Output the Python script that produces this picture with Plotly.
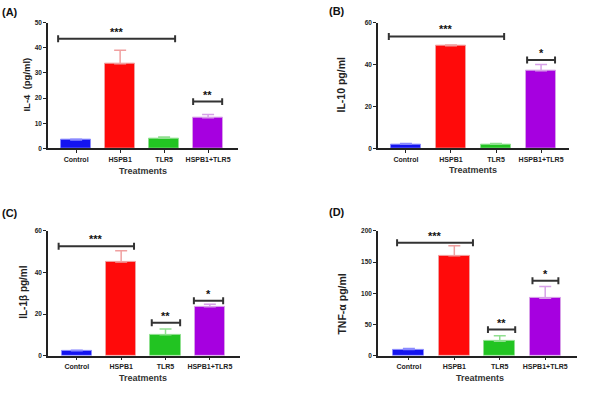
import plotly.graph_objects as go

W, H = 598, 393
categories = ["Control", "HSPB1", "TLR5", "HSPB1+TLR5"]
bar_colors = ["#1414f0", "#ff0a0a", "#22c422", "#a600e0"]
err_colors = ["#8a8aff", "#f0a0a0", "#90e090", "#d7a0e8"]

il4_mean = [3.3, 33.7, 4.0, 12.2]
il4_upper = [3.6, 39.0, 4.5, 13.5]
il10_mean = [2.0, 49.0, 2.0, 37.0]
il10_upper = [2.3, 49.3, 2.3, 40.0]
il1b_mean = [2.3, 45.0, 10.0, 23.5]
il1b_upper = [2.6, 50.5, 12.8, 24.7]
tnfa_mean = [10.0, 160.0, 23.0, 92.0]
tnfa_upper = [11.5, 176.0, 32.0, 111.0]

# significance brackets: (start, end, height, label)
il4_sig = [(-0.41, 2.25, 43.6, "***"), (2.66, 3.32, 18.6, "**")]
il10_sig = [(-0.38, 2.18, 53.4, "***"), (2.69, 3.31, 42.2, "*")]
il1b_sig = [(-0.41, 1.29, 52.6, "***"), (1.69, 2.33, 15.8, "**"), (2.64, 3.30, 26.4, "*")]
tnfa_sig = [(-0.26, 1.41, 181.0, "***"), (1.74, 2.34, 41.7, "**"), (2.72, 3.29, 120.0, "*")]

panels = [
    dict(lab="(A)", mean=il4_mean, up=il4_upper, sig=il4_sig, ytitle="IL-4  (pg/ml)", yt_size=9.5,
         px=(48, 238), py=(19, 147), yr=50, dt=10, xr=(-0.64, 3.68), labpos=(10, 8), ytx=(27, 82), xt=(143, 170)),
    dict(lab="(B)", mean=il10_mean, up=il10_upper, sig=il10_sig, ytitle="IL-10 pg/ml", yt_size=10.5,
         px=(378, 569), py=(19, 147), yr=60, dt=20, xr=(-0.62, 3.62), labpos=(337, 7), ytx=(341, 82), xt=(473, 169)),
    dict(lab="(C)", mean=il1b_mean, up=il1b_upper, sig=il1b_sig, ytitle="IL-1β pg/ml", yt_size=10,
         px=(48, 240), py=(231, 358), yr=60, dt=20, xr=(-0.65, 3.68), labpos=(10, 213), ytx=(24, 293), xt=(143, 381)),
    dict(lab="(D)", mean=tnfa_mean, up=tnfa_upper, sig=tnfa_sig, ytitle="TNF-α pg/ml", yt_size=10.5,
         px=(378, 577), py=(231, 358), yr=200, dt=50, xr=(-0.68, 3.70), labpos=(337, 212), ytx=(342, 305), xt=(480, 381)),
]

FONT = "Liberation Sans, Arial, sans-serif"
fig = go.Figure()
annotations = []
layout = {}

for i, p in enumerate(panels):
    n = "" if i == 0 else str(i + 1)
    xa, ya = "x" + n, "y" + n
    xdom = [p["px"][0] / W, p["px"][1] / W]
    ydom = [1 - p["py"][1] / H, 1 - p["py"][0] / H]
    xs = list(range(len(categories)))
    fig.add_trace(go.Bar(
        x=xs, y=p["mean"], width=0.68, xaxis=xa, yaxis=ya, showlegend=False,
        marker=dict(color=bar_colors, line=dict(color=err_colors, width=1)),
    ))
    for j in xs:
        fig.add_trace(go.Scatter(
            x=[j], y=[p["mean"][j]], mode="markers", marker=dict(size=0.1, color="rgba(0,0,0,0)"),
            xaxis=xa, yaxis=ya, showlegend=False, hoverinfo="skip",
            error_y=dict(type="data", symmetric=False, array=[p["up"][j] - p["mean"][j]],
                         arrayminus=[0], color=err_colors[j], thickness=1.5, width=6),
        ))
    ppu = (p["py"][1] - p["py"][0]) / p["yr"]
    cap = 3.5 / ppu
    for (x0, x1, h, lab) in p["sig"]:
        fig.add_trace(go.Scatter(
            x=[x0, x0, None, x0, x1, None, x1, x1],
            y=[h - cap, h + cap, None, h, h, None, h - cap, h + cap],
            mode="lines", line=dict(color="#333333", width=2), xaxis=xa, yaxis=ya,
            showlegend=False, hoverinfo="skip"))
        annotations.append(dict(x=(x0 + x1) / 2, y=h, xref=xa, yref=ya, text="<b>" + lab + "</b>",
                                showarrow=False, xanchor="center", yanchor="bottom", yshift=-1,
                                font=dict(size=11, color="#111111", family=FONT)))
    layout["xaxis" + n] = dict(domain=xdom, range=list(p["xr"]), anchor=ya, tickvals=xs,
                               ticktext=["<b>" + c + "</b>" for c in categories],
                               showline=True, linecolor="#222222", linewidth=1.5, ticks="outside", ticklen=3,
                               tickcolor="#222222", tickfont=dict(size=7, color="#222222", family=FONT),
                               showgrid=False, zeroline=False, fixedrange=True)
    layout["yaxis" + n] = dict(domain=ydom, range=[0, p["yr"]], anchor=xa, dtick=p["dt"],
                               showline=True, linecolor="#222222", linewidth=1.5, ticks="outside", ticklen=3,
                               tickcolor="#222222", tickfont=dict(size=6.5, color="#222222", family=FONT),
                               tickprefix="<b>", ticksuffix="</b>",
                               showgrid=False, zeroline=False, fixedrange=True)
    annotations.append(dict(x=p["labpos"][0] / W, y=1 - p["labpos"][1] / H, xref="paper", yref="paper",
                            text="<b>" + p["lab"] + "</b>", showarrow=False, xanchor="center", yanchor="middle",
                            font=dict(size=11, color="#111111", family=FONT)))
    annotations.append(dict(x=p["ytx"][0] / W, y=1 - p["ytx"][1] / H, xref="paper", yref="paper",
                            text="<b>" + p["ytitle"] + "</b>", showarrow=False, textangle=-90,
                            xanchor="center", yanchor="middle",
                            font=dict(size=p["yt_size"], color="#222222", family=FONT)))
    annotations.append(dict(x=p["xt"][0] / W, y=1 - p["xt"][1] / H, xref="paper", yref="paper",
                            text="<b>Treatments</b>", showarrow=False, xanchor="center", yanchor="middle",
                            font=dict(size=9, color="#333333", family=FONT)))

fig.update_layout(width=W, height=H, margin=dict(l=0, r=0, t=0, b=0),
                  paper_bgcolor="white", plot_bgcolor="white", annotations=annotations,
                  bargap=0, **layout)
fig.write_html("out.html", config={"displayModeBar": False},
               post_script="document.body.style.margin='0px';document.body.style.overflow='hidden';")
